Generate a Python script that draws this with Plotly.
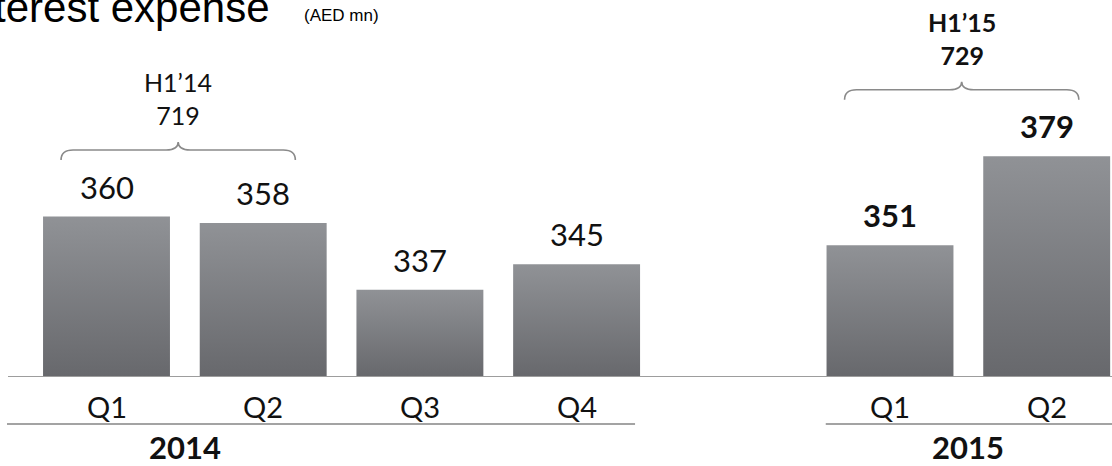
import plotly.graph_objects as go

# ---- data -------------------------------------------------------------
years = ["2014", "2015"]
quarters_2014 = ["Q1", "Q2", "Q3", "Q4"]
quarters_2015 = ["Q1", "Q2"]
values_2014 = [360, 358, 337, 345]
values_2015 = [351, 379]
half_year_labels = ["H1’14", "H1’15"]
half_year_totals = [719, 729]

# ---- geometry ---------------------------------------------------------
W, H = 1112, 466
PLOT_H = 377                 # plot area height (baseline sits at its bottom)
Y_MIN = 309.5                # value at the baseline
Y_PX = 3.177                 # pixels per value unit
Y_MAX = Y_MIN + PLOT_H / Y_PX
X_PX = 156.7                 # pixels per category slot
X_MIN = -106.5 / X_PX
X_MAX = X_MIN + W / X_PX
BAR_W = 0.81

# one empty slot separates the two years
pos_2014 = list(range(len(quarters_2014)))
pos_2015 = [len(quarters_2014) + 1 + i for i in range(len(quarters_2015))]

TEXT = "#111111"
LABEL_FONT = "Lato, 'Open Sans', sans-serif"
GRAD = [[0, "#67686c"], [1, "#909296"]]


def py_to_paper(py):
    return (PLOT_H - py) / PLOT_H


fig = go.Figure()

# bars, each with its own vertical gradient
for positions, values in ((pos_2014, values_2014), (pos_2015, values_2015)):
    for x, v in zip(positions, values):
        fig.add_trace(go.Scatter(
            x=[x - BAR_W / 2, x + BAR_W / 2, x + BAR_W / 2, x - BAR_W / 2, x - BAR_W / 2],
            y=[Y_MIN, Y_MIN, v, v, Y_MIN],
            mode="lines", fill="toself",
            fillgradient=dict(type="vertical", colorscale=GRAD),
            line=dict(width=0), hoverinfo="skip", showlegend=False,
        ))

annotations = []
shapes = []

# value labels above the bars (2015 in bold)
for positions, values, bold in ((pos_2014, values_2014, False), (pos_2015, values_2015, True)):
    for x, v in zip(positions, values):
        annotations.append(dict(
            x=x, y=v, xref="x", yref="y", yshift=30, yanchor="middle",
            text=f"<b>{v}</b>" if bold else str(v), showarrow=False,
            font=dict(family=LABEL_FONT, size=31, color=TEXT),
        ))

# quarter labels under the baseline
for positions, names in ((pos_2014, quarters_2014), (pos_2015, quarters_2015)):
    for x, q in zip(positions, names):
        annotations.append(dict(
            x=x, y=py_to_paper(406), xref="x", yref="paper", yanchor="middle",
            text=q, showarrow=False,
            font=dict(family=LABEL_FONT, size=29, color=TEXT),
        ))

# year labels and the rules above them
year_groups = [pos_2014, pos_2015]
year_rules = [(pos_2014[0] - 0.635, pos_2014[-1] + 0.373), (pos_2015[0] - 0.41, X_MAX)]
for yr, grp, (r0, r1) in zip(years, year_groups, year_rules):
    annotations.append(dict(
        x=(grp[0] + grp[1]) / 2, y=py_to_paper(447), xref="x", yref="paper",
        yanchor="middle", text=f"<b>{yr}</b>", showarrow=False,
        font=dict(family=LABEL_FONT, size=31, color=TEXT),
    ))
    shapes.append(dict(type="line", xref="x", yref="paper", x0=r0, x1=r1,
                       y0=py_to_paper(424), y1=py_to_paper(424),
                       line=dict(color="#a3a3a3", width=2), layer="above"))

# baseline
shapes.append(dict(type="line", xref="paper", yref="y", x0=8 / W, x1=1,
                   y0=Y_MIN, y1=Y_MIN, line=dict(color="#9d9d9d", width=2),
                   layer="above"))


# curly braces grouping the first half of each year
def brace_path(xa, xb, y_end, y_h, y_peak):
    dx = 12 / X_PX
    xm = (xa + xb) / 2
    return (f"M {xa},{y_end} Q {xa},{y_h} {xa + dx},{y_h} "
            f"L {xm - dx},{y_h} Q {xm},{y_h} {xm},{y_peak} "
            f"Q {xm},{y_h} {xm + dx},{y_h} "
            f"L {xb - dx},{y_h} Q {xb},{y_h} {xb},{y_end}")


half_groups = [(pos_2014[:2], values_2014[:2], False), (pos_2015[:2], values_2015[:2], True)]
for (grp, vals, bold), lab, tot in zip(half_groups, half_year_labels, half_year_totals):
    top = max(vals)
    xa, xb = grp[0] - 0.29, grp[1] + 0.205
    y_end = top + 56.5 / Y_PX
    y_h = top + 66.5 / Y_PX
    y_peak = top + 74.5 / Y_PX
    shapes.append(dict(type="path", xref="x", yref="y",
                       path=brace_path(xa, xb, y_end, y_h, y_peak),
                       line=dict(color="#8a8a8a", width=1.6)))
    text = f"{lab}<br>{tot}"
    if bold:
        text = f"<b>{lab}</b><br><b>{tot}</b>"
    annotations.append(dict(
        x=(xa + xb) / 2, y=y_peak, xref="x", yref="y", yanchor="bottom", yshift=10,
        text=text, showarrow=False, align="center",
        font=dict(family=LABEL_FONT, size=25, color=TEXT),
    ))

# title, running off the left edge of the canvas
annotations.append(dict(
    x=-43 / W, y=py_to_paper(7.5), xref="paper", yref="paper", xanchor="left",
    yanchor="middle", text="Interest expense", showarrow=False,
    font=dict(family="Arial, 'Liberation Sans', sans-serif", size=42, color="#000000"),
))
annotations.append(dict(
    x=302 / W, y=py_to_paper(15), xref="paper", yref="paper", xanchor="left",
    yanchor="middle", text="(AED mn)", showarrow=False,
    font=dict(family="Arial, 'Liberation Sans', sans-serif", size=17, color="#000000"),
))

fig.update_layout(
    width=W, height=H,
    margin=dict(l=0, r=0, t=0, b=H - PLOT_H, pad=0),
    paper_bgcolor="white", plot_bgcolor="white",
    xaxis=dict(range=[X_MIN, X_MAX], visible=False, fixedrange=True),
    yaxis=dict(range=[Y_MIN, Y_MAX], visible=False, fixedrange=True),
    annotations=annotations, shapes=shapes, showlegend=False,
)

fig.write_html("out.html")
